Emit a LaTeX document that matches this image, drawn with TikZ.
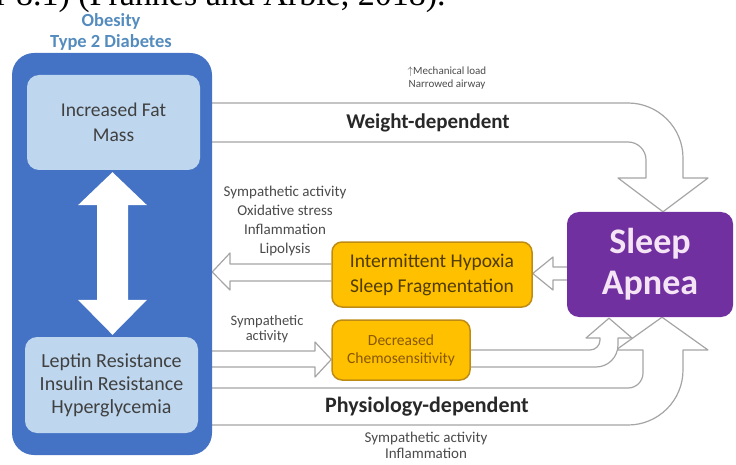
\documentclass[tikz,border=0pt]{standalone}
\usepackage{fontspec}
\setmainfont{Carlito}
\newfontfamily\capfont{Liberation Serif}
\usetikzlibrary{positioning,calc,backgrounds}

\definecolor{obesblue}{RGB}{68,114,196}
\definecolor{fatblue}{RGB}{190,215,238}
\definecolor{titleblue}{RGB}{85,140,190}
\definecolor{apneapurple}{RGB}{112,48,160}
\definecolor{apneatext}{RGB}{245,228,245}
\definecolor{ihorange}{RGB}{255,192,0}
\definecolor{ihborder}{RGB}{190,140,20}
\definecolor{ihtext}{RGB}{80,60,0}
\definecolor{chemotext}{RGB}{135,88,0}
\definecolor{arrowgray}{RGB}{165,165,165}
\definecolor{labelgray}{RGB}{75,75,75}
\definecolor{boxtext}{RGB}{64,64,64}

\tikzset{
  box/.style={rounded corners=12,inner sep=0,align=center},
  blockarrow/.style={draw=arrowgray,fill=white,line width=1.2pt,line join=round},
  lbl/.style={align=center,text=labelgray,inner sep=0,font=\fontsize{15}{19}\selectfont},
  heading/.style={inner sep=0,text={rgb,255:red,40;green,40;blue,40},font=\bfseries\fontsize{21}{21}\selectfont}
}

\begin{document}
\begin{tikzpicture}[x=1pt,y=-1pt]
\useasboundingbox (0,0) rectangle (736,465);

\node[anchor=base west,inner sep=0,font=\capfont\fontsize{34}{34}\selectfont] (cap) at (-4,5.5) {r 8.1) (Frannes and Arble, 2018).};

\node[align=center,inner sep=0,text=titleblue,font=\bfseries\fontsize{18.5}{21}\selectfont] (title) at (111,32) {Obesity\\Type 2 Diabetes};

\node[box,rounded corners=22,fill=obesblue,minimum width=200,minimum height=402] (obes) at (112,254) {};
\node[box,fill=fatblue,text=boxtext,minimum width=173,minimum height=95,font=\fontsize{19.5}{25}\selectfont] (fat) at (113.5,122.5) {Increased Fat\\Mass};
\node[box,fill=fatblue,text=boxtext,minimum width=173,minimum height=96,font=\fontsize{20}{23}\selectfont] (lep) at (111.5,385) {Leptin Resistance\\Insulin Resistance\\Hyperglycemia};

\coordinate (up) at ($(fat.south)+(-1,2)$);
\coordinate (dn) at ($(lep.north)+(1,-2)$);
\fill[white] (up) -- ++(34.5,33) -- ++(-19,0) -- ($(dn)+(15.5,-35)$) -- ++(19,0) -- (dn)
  -- ++(-34.5,-35) -- ++(19,0) -- ($(up)+(-15.5,33)$) -- ++(-19,0) -- cycle;

\node[box,fill=apneapurple,text=apneatext,minimum width=166,minimum height=105,font=\bfseries\fontsize{36}{41}\selectfont] (apnea) at (650,264.5) {Sleep\\Apnea};
\node[box,rounded corners=10,fill=ihorange,draw=ihborder,line width=1.5,text=ihtext,minimum width=200,minimum height=65,font=\fontsize{19.5}{25}\selectfont] (ih) at (432,274.5) {Intermittent Hypoxia\\Sleep Fragmentation};
\node[box,rounded corners=10,fill=ihorange,draw=ihborder,line width=1.5,text=chemotext,minimum width=138,minimum height=60,font=\fontsize{15.5}{18}\selectfont] (chemo) at (401,350) {Decreased\\Chemosensitivity};

\begin{pgfonlayer}{background}
\draw[blockarrow] (obes.east |- 0,103) [rounded corners=55] -- (683,103) [sharp corners] -- (683,178) -- (708,178)
  -- ($(apnea.north)+(13,0)$) -- (618,178) -- (646,178) [rounded corners=18] -- (646,142) [sharp corners] -- (obes.east |- 0,142);
\draw[blockarrow] (obes.east |- 0,388) [rounded corners=15] -- (643,388) [sharp corners] -- (643,350) -- (616,350)
  -- ($(apnea.south)+(12,0)$) -- (708,350) -- (683,350) [rounded corners=55] -- (683,425) [sharp corners] -- (obes.east |- 0,425);
\draw[blockarrow] (chemo.east |- 0,350) [rounded corners=10] -- (600,350) [sharp corners] -- (600,338) -- (586,338)
  -- ($(apnea.south)+(-41,1)$) -- (632,338) -- (618,338) [rounded corners=22] -- (618,367) [sharp corners] -- (chemo.east |- 0,367);
\draw[blockarrow] (ih.west |- 0,264) -- (230,264) -- (230,253) -- (obes.east |- 0,272) -- (230,290) -- (230,281) -- (ih.west |- 0,281);
\draw[blockarrow] (apnea.west |- 0,267) -- (553,267) -- (553,257) -- (ih.east |- 0,273.5) -- (553,290) -- (553,280) -- (apnea.west |- 0,280);
\draw[blockarrow] (obes.east |- 0,351) -- (315,351) -- (315,342) -- (chemo.west |- 0,359.5) -- (315,377) -- (315,367) -- (obes.east |- 0,367);
\end{pgfonlayer}

\node[lbl,font=\fontsize{11}{13}\selectfont] (mech) at (447,78.5) {$\uparrow$Mechanical load\\Narrowed airway};
\node[heading] (wd) at (428,123) {Weight-dependent};
\node[lbl] (ihlbl) at (285,221.5) {Sympathetic activity\\Oxidative stress\\Inflammation\\Lipolysis};
\node[lbl,font=\fontsize{14.5}{15}\selectfont] (chlbl) at (267,329.5) {Sympathetic\\activity};
\node[heading,font=\bfseries\fontsize{22}{22}\selectfont] (pd) at (427,407) {Physiology-dependent};
\node[lbl,font=\fontsize{15}{16}\selectfont] (pdlbl) at (426,445) {Sympathetic activity\\Inflammation};

\end{tikzpicture}
\end{document}
